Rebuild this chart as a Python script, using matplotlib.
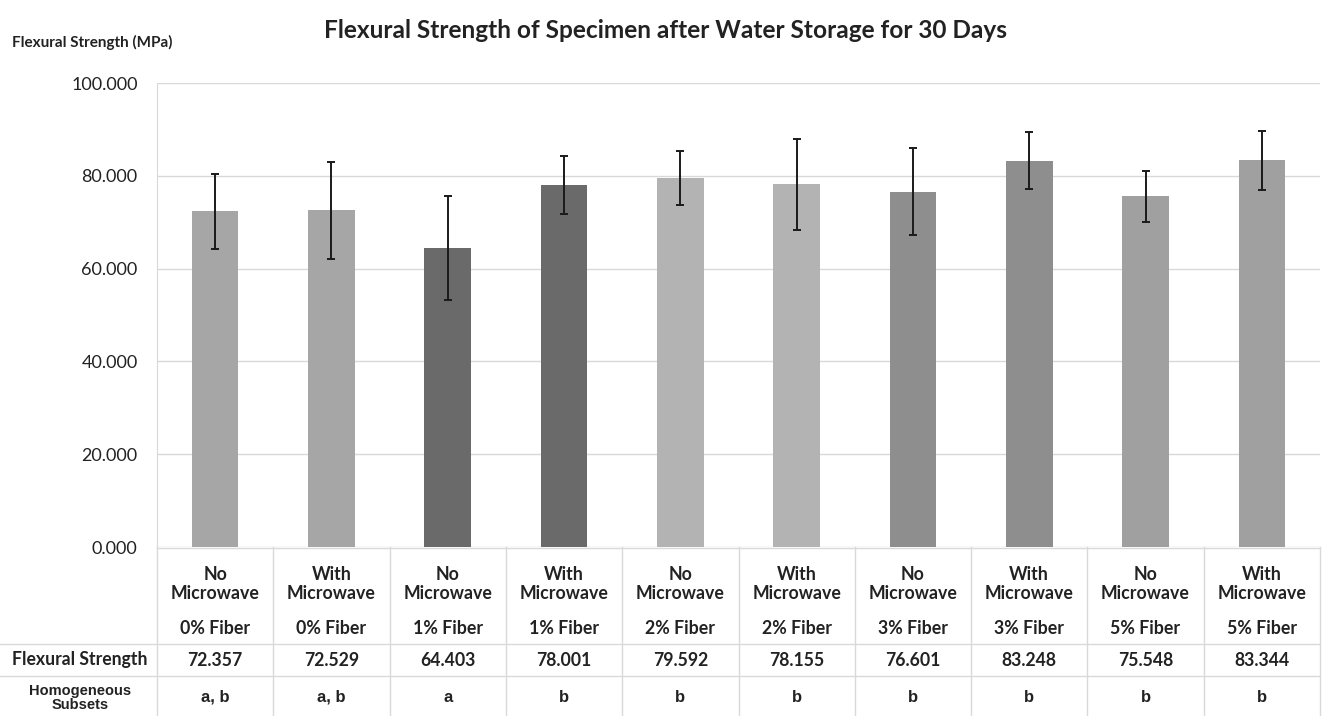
import numpy as np
import matplotlib.pyplot as plt
from matplotlib import transforms

plt.rcParams['font.family'] = ['Lato', 'DejaVu Sans']

# data
treat = ["No\nMicrowave", "With\nMicrowave"] * 5
fiber = ["0% Fiber", "0% Fiber", "1% Fiber", "1% Fiber", "2% Fiber",
         "2% Fiber", "3% Fiber", "3% Fiber", "5% Fiber", "5% Fiber"]
strength = [72.357, 72.529, 64.403, 78.001, 79.592, 78.155, 76.601, 83.248, 75.548, 83.344]
err = [8.1, 10.4, 11.2, 6.3, 5.8, 9.8, 9.3, 6.2, 5.5, 6.3]
subsets = ["a, b", "a, b", "a", "b", "b", "b", "b", "b", "b", "b"]
colors = ['#a6a6a6', '#a6a6a6', '#6a6a6a', '#6a6a6a', '#b3b3b3',
          '#b3b3b3', '#8e8e8e', '#8e8e8e', '#a0a0a0', '#a0a0a0']

W, H = 1325, 716
fig = plt.figure(figsize=(W / 100, H / 100), dpi=100)
grid_c = '#d9d9d9'
txt_c = '#222222'

# chart area (pixel geometry)
ax = fig.add_axes([157 / W, (H - 547) / H, (1320 - 157) / W, (547 - 83) / H])
x = np.arange(len(strength))
ax.bar(x, strength, width=0.4, color=colors, zorder=2)
ax.errorbar(x, strength, yerr=err, fmt='none', ecolor='#1a1a1a',
            elinewidth=1.4, capsize=3, capthick=1.4, zorder=3)
ax.set_xlim(-0.5, len(x) - 0.5)
ax.set_ylim(0, 100)
ax.set_yticks(np.arange(0, 101, 20))
ax.set_yticklabels(['%.3f' % v for v in np.arange(0, 101, 20)])
ax.set_xticks([])
ax.grid(axis='y', color=grid_c, linewidth=1, zorder=0)
for s in ['top', 'right', 'bottom']:
    ax.spines[s].set_visible(False)
ax.spines['left'].set_color(grid_c)
ax.tick_params(axis='y', length=0, pad=14, labelsize=13, labelcolor=txt_c)

fig.text(12 / W, 1 - 42 / H, 'Flexural Strength (MPa)', fontsize=11,
         fontweight='bold', color=txt_c, va='center', ha='left')
fig.text(665 / W, 1 - 30 / H, 'Flexural Strength of Specimen after Water Storage for 30 Days',
         fontsize=17.6, fontweight='bold', color=txt_c, va='center', ha='center')

# data table under the chart
tab = fig.add_axes([0, 0, 1320 / W, 169 / H])
tab.set_xlim(0, 1320)
tab.set_ylim(169, 0)
tab.axis('off')
tr = transforms.blended_transform_factory(ax.transData, tab.transData)

tab.axhline(0.5, xmin=157 / 1320, xmax=1, color=grid_c, lw=1)
for yy in [97, 129]:
    tab.axhline(yy, color=grid_c, lw=1)
for b in np.arange(-0.5, len(x), 1.0):
    tab.plot([b, b], [0, 169], color=grid_c, lw=1, transform=tr, clip_on=False)

for i in x:
    tab.text(i, 37, treat[i], transform=tr, ha='center', va='center',
             fontsize=12.8, fontweight='bold', color=txt_c, linespacing=1.2)
    tab.text(i, 81, fiber[i], transform=tr, ha='center', va='center',
             fontsize=12.8, fontweight='bold', color=txt_c)
    tab.text(i, 113, '%.3f' % strength[i], transform=tr, ha='center', va='center',
             fontsize=12.7, fontweight='bold', color=txt_c)
    tab.text(i, 150, subsets[i], transform=tr, ha='center', va='center',
             fontsize=12, fontweight='bold', color=txt_c, family='Liberation Sans')

tab.text(80, 113, 'Flexural Strength', ha='center', va='center',
         fontsize=12.7, fontweight='bold', color=txt_c)
tab.text(80, 151, 'Homogeneous\nSubsets', ha='center', va='center',
         fontsize=10.5, fontweight='bold', color=txt_c, family='Liberation Sans',
         linespacing=1.0)

fig.savefig('out.png', dpi=100)
